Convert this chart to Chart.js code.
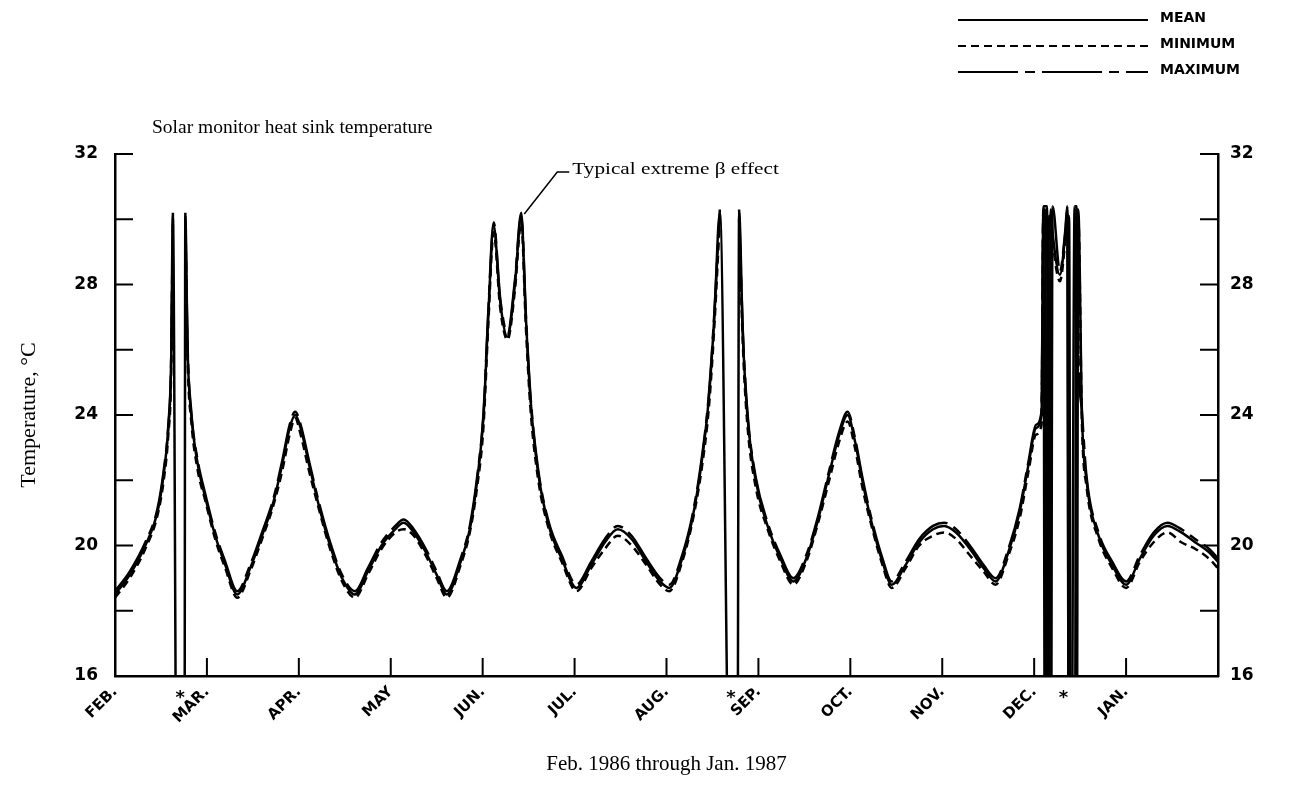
<!DOCTYPE html>
<html>
<head>
<meta charset="utf-8">
<title>Solar monitor heat sink temperature</title>
<script src="https://cdn.jsdelivr.net/npm/chart.js@4.4.1/dist/chart.umd.min.js"></script>
<style>
    html, body { margin: 0; padding: 0; background: #ffffff; }
    #wrap { width: 1294px; height: 789px; }
</style>
</head>
<body>
<div id="wrap"><canvas id="graficoTemperatura"></canvas></div>
<script>
    // x axis is months counted from FEB. 1986 (0) to FEB. 1987 (12)
    const monthLabels = ['FEB.', 'MAR.', 'APR.', 'MAY', 'JUN.', 'JUL.', 'AUG.', 'SEP.', 'OCT.', 'NOV.', 'DEC.', 'JAN.'];
    const gapMarks = [0.71, 6.70, 10.32];   // the '*' under the axis

    const months = [
        0.00, 0.16, 0.33, 0.46, 0.53, 0.58, 0.61, 0.63, 0.675, 0.755, 0.765, 0.79, 0.83, 0.90, 0.98,
        1.09, 1.20, 1.33, 1.47, 1.60, 1.72, 1.82, 1.90, 1.96,
        2.02, 2.11, 2.22, 2.34, 2.47, 2.61, 2.75, 2.90,
        3.05, 3.14, 3.25, 3.38, 3.50, 3.61, 3.76, 3.86, 3.94,
        4.01, 4.06, 4.12, 4.19, 4.27, 4.35, 4.42, 4.47, 4.52, 4.60, 4.72, 4.86,
        5.02, 5.18, 5.33, 5.47, 5.62, 5.78, 5.93,
        6.03, 6.17, 6.28, 6.38, 6.46, 6.52, 6.58, 6.70, 6.77, 6.79, 6.83, 6.88, 6.97,
        7.10, 7.24, 7.38, 7.52, 7.65, 7.77, 7.88, 7.97,
        8.05, 8.13, 8.24, 8.35, 8.45, 8.60, 8.75, 8.90,
        9.02, 9.15, 9.30, 9.45, 9.58, 9.72, 9.84, 9.94,
        10.02, 10.08, 10.10, 10.12, 10.14, 10.16, 10.18, 10.20, 10.28, 10.34, 10.36, 10.38, 10.40, 10.44, 10.46, 10.48, 10.52, 10.57, 10.70, 10.85,
        11.00, 11.15, 11.30, 11.45, 11.60, 11.75, 11.90, 12.00
    ];

    const meanTemp = [
        18.5, 19.1, 20.0, 21.0, 22.2, 23.6, 25.5, 30.1, 10, 10, 30.1, 26.0, 24.0, 22.5, 21.5,
        20.3, 19.4, 18.5, 19.3, 20.3, 21.3, 22.5, 23.6, 24.0,
        23.6, 22.5, 21.2, 20.0, 19.0, 18.5, 19.2, 20.0,
        20.5, 20.7, 20.4, 19.8, 19.1, 18.5, 19.5, 20.5, 22.0,
        24.0, 27.0, 29.8, 27.5, 26.4, 28.0, 30.1, 27.0, 24.5, 22.3, 20.6, 19.6,
        18.7, 19.4, 20.1, 20.5, 20.2, 19.5, 18.9,
        18.7, 19.6, 20.8, 22.5, 24.5, 27.0, 30.2, 10, 10, 30.2, 26.5, 24.0, 22.0,
        20.6, 19.6, 18.9, 19.6, 20.8, 22.2, 23.4, 24.0,
        23.2, 22.0, 20.6, 19.5, 18.8, 19.4, 20.1, 20.5,
        20.6, 20.4, 19.9, 19.3, 18.9, 19.8, 21.0, 22.5,
        23.6, 24.0, 30.3, 30.3, 8, 8, 30.3, 29.6, 28.3, 29.6, 30.3, 8, 8, 8, 30.3, 30.3, 24.0, 22.0, 20.3, 19.4,
        18.8, 19.6, 20.3, 20.6, 20.4, 20.1, 19.8, 19.5
    ];

    const minTemp = [
        18.4, 19.0, 19.9, 20.9, 22.0, 23.4, 25.2, 29.9, null, null, 29.9, 25.7, 23.8, 22.3, 21.4,
        20.2, 19.3, 18.4, 19.2, 20.2, 21.2, 22.3, 23.4, 23.9,
        23.4, 22.3, 21.1, 19.9, 18.9, 18.4, 19.1, 19.9,
        20.4, 20.5, 20.3, 19.7, 19.0, 18.4, 19.4, 20.4, 21.8,
        23.7, 26.7, 29.6, 27.3, 26.3, 27.8, 29.9, 26.7, 24.2, 22.1, 20.5, 19.5,
        18.6, 19.3, 19.9, 20.3, 20.0, 19.4, 18.8,
        18.6, 19.5, 20.7, 22.3, 24.2, 26.7, 30.0, null, null, 30.0, 26.2, 23.7, 21.8,
        20.5, 19.5, 18.8, 19.5, 20.7, 22.0, 23.2, 23.8,
        23.0, 21.8, 20.5, 19.4, 18.7, 19.3, 20.0, 20.3,
        20.4, 20.2, 19.7, 19.2, 18.8, 19.7, 20.8, 22.3,
        23.4, 23.7, 30.1, 8, 8, 30.1, 30.1, 29.4, 28.1, 29.4, 30.1, 30.1, 8, 8, 8, 30.1, 23.7, 21.8, 20.2, 19.3,
        18.7, 19.5, 20.1, 20.4, 20.1, 19.9, 19.6, 19.3
    ];

    const maxTemp = [
        18.6, 19.2, 20.1, 21.1, 22.3, 23.7, 25.6, 30.2, null, null, 30.2, 26.1, 24.1, 22.6, 21.6,
        20.4, 19.5, 18.6, 19.4, 20.4, 21.4, 22.6, 23.7, 24.1,
        23.7, 22.6, 21.3, 20.1, 19.1, 18.6, 19.3, 20.1,
        20.6, 20.8, 20.5, 19.9, 19.2, 18.6, 19.6, 20.6, 22.1,
        24.1, 27.1, 29.9, 27.6, 26.5, 28.1, 30.2, 27.1, 24.6, 22.4, 20.7, 19.7,
        18.8, 19.5, 20.2, 20.6, 20.3, 19.6, 19.0,
        18.8, 19.7, 20.9, 22.6, 24.6, 27.1, 30.3, null, null, 30.3, 26.6, 24.1, 22.1,
        20.7, 19.7, 19.0, 19.7, 20.9, 22.3, 23.5, 24.1,
        23.3, 22.1, 20.7, 19.6, 18.9, 19.5, 20.2, 20.6,
        20.7, 20.5, 20.0, 19.4, 19.0, 19.9, 21.1, 22.6,
        23.7, 24.1, 30.4, 30.4, 30.4, 8, 8, 30.4, 28.4, 29.7, 30.4, 8, 8, 30.4, 30.4, 26.0, 24.1, 22.1, 20.4, 19.5,
        18.9, 19.7, 20.4, 20.7, 20.5, 20.2, 19.9, 19.6
    ];

    function pontos(temps) {
        return months.map((m, i) => ({ x: m, y: temps[i] }));
    }

    // the drop-out strokes are drawn solid even on the dashed series
    function tracoQueda(ctx) {
        return Math.abs(ctx.p0.parsed.y - ctx.p1.parsed.y) > 10 ? [] : undefined;
    }

    // tick marks point into the plot, so they are drawn here
    const marcasEixo = {
        id: 'marcasEixo',
        afterDraw(chart) {
            const ctx = chart.ctx;
            const { left, right, bottom } = chart.chartArea;
            const sx = chart.scales.x;
            const sy = chart.scales.y;
            ctx.save();
            ctx.strokeStyle = '#000';
            ctx.lineWidth = 2;
            ctx.beginPath();
            sy.ticks.forEach(t => {
                if (t.value <= 16) return;
                const py = sy.getPixelForValue(t.value);
                ctx.moveTo(left, py); ctx.lineTo(left + 18, py);
                ctx.moveTo(right, py); ctx.lineTo(right - 18, py);
            });
            sx.ticks.forEach(t => {
                if (t.value <= 0 || t.value >= 12) return;
                const px = sx.getPixelForValue(t.value);
                ctx.moveTo(px, bottom); ctx.lineTo(px, bottom - 18);
            });
            ctx.stroke();
            ctx.restore();
        }
    };

    // title, legend, note and the '*' marks
    const textos = {
        id: 'textos',
        afterDraw(chart) {
            const ctx = chart.ctx;
            const sx = chart.scales.x;
            const sy = chart.scales.y;
            const bottom = chart.chartArea.bottom;
            ctx.save();
            ctx.fillStyle = '#000';
            ctx.strokeStyle = '#000';
            ctx.textBaseline = 'middle';

            ctx.font = '19.5px "Liberation Serif"';
            ctx.fillText('Solar monitor heat sink temperature', 152, 128);

            // legend
            ctx.font = 'bold 14px "DejaVu Sans"';
            chart.data.datasets.forEach((ds, i) => {
                const y = 20 + i * 26;
                ctx.lineWidth = 2;
                ctx.setLineDash(ds.borderDash || []);
                ctx.beginPath();
                ctx.moveTo(958, y);
                ctx.lineTo(1148, y);
                ctx.stroke();
                ctx.setLineDash([]);
                ctx.fillText(ds.label, 1160, y - 2);
            });

            // leader to the June double peak
            const px = sx.getPixelForValue(4.42);
            const py = sy.getPixelForValue(30.1);
            ctx.lineWidth = 1.5;
            ctx.beginPath();
            ctx.moveTo(px + 3, py - 2);
            ctx.lineTo(px + 36, py - 44);
            ctx.lineTo(px + 48, py - 44);
            ctx.stroke();
            ctx.font = '17px "Liberation Serif"';
            ctx.translate(px + 51, py - 46);
            ctx.scale(1.25, 1);
            ctx.fillText('Typical extreme \u03b2 effect', 0, 0);
            ctx.setTransform(1, 0, 0, 1, 0, 0);

            ctx.font = 'bold 18px "DejaVu Sans"';
            ctx.textAlign = 'center';
            gapMarks.forEach(m => {
                ctx.fillText('*', sx.getPixelForValue(m), bottom + 22);
            });
            ctx.restore();
        }
    };

    function criargrafico(canvasID) {
        const ctx = document.getElementById(canvasID).getContext('2d');
        const fonteEixo = { family: 'DejaVu Sans', weight: 'bold', size: 17 };
        const yTicks = {
            stepSize: 2,
            color: '#000',
            font: fonteEixo,
            callback: v => (v % 4 === 0 ? v : '')
        };

        new Chart(ctx, {
            type: 'line',
            data: {
                datasets: [
                    {
                        label: 'MEAN',
                        data: pontos(meanTemp),
                        borderColor: '#000',
                        borderWidth: 2.5,
                        borderDash: []
                    },
                    {
                        label: 'MINIMUM',
                        data: pontos(minTemp),
                        borderColor: '#000',
                        borderWidth: 2.5,
                        borderDash: [8, 5],
                        segment: { borderDash: tracoQueda }
                    },
                    {
                        label: 'MAXIMUM',
                        data: pontos(maxTemp),
                        borderColor: '#000',
                        borderWidth: 2.5,
                        borderDash: [60, 7, 10, 7],
                        segment: { borderDash: tracoQueda }
                    }
                ]
            },
            options: {
                responsive: true,
                maintainAspectRatio: false,
                animation: false,
                layout: { padding: { top: 154, left: 0, right: 0, bottom: 0 } },
                elements: {
                    point: { radius: 0 },
                    line: { cubicInterpolationMode: 'monotone' }
                },
                datasets: { line: { clip: 0, spanGaps: false } },
                plugins: {
                    legend: { display: false },
                    tooltip: { enabled: false }
                },
                scales: {
                    x: {
                        type: 'linear',
                        min: 0,
                        max: 12,
                        afterFit: s => { s.height = 113; },
                        grid: { display: false, drawTicks: false },
                        border: { display: true, color: '#000', width: 2.5 },
                        ticks: {
                            stepSize: 1,
                            autoSkip: false,
                            minRotation: 45,
                            maxRotation: 45,
                            padding: 7,
                            color: '#000',
                            font: { family: 'DejaVu Sans', weight: 'bold', size: 15 },
                            callback: v => monthLabels[v] || ''
                        },
                        title: {
                            display: true,
                            text: 'Feb. 1986 through Jan. 1987',
                            color: '#000',
                            font: { family: 'Liberation Serif', size: 21 },
                            padding: { top: 0, bottom: 12 }
                        }
                    },
                    y: {
                        position: 'left',
                        min: 16,
                        max: 32,
                        afterFit: s => { s.width = 115; },
                        grid: { display: false, drawTicks: false },
                        border: { display: true, color: '#000', width: 2.5 },
                        ticks: Object.assign({ padding: 17 }, yTicks),
                        title: {
                            display: true,
                            text: 'Temperature, \u00b0C',
                            color: '#000',
                            font: { family: 'Liberation Serif', size: 22 },
                            padding: { top: 16, bottom: 0 }
                        }
                    },
                    y2: {
                        position: 'right',
                        min: 16,
                        max: 32,
                        afterFit: s => { s.width = 76; },
                        grid: { display: false, drawTicks: false },
                        border: { display: true, color: '#000', width: 2.5 },
                        ticks: Object.assign({ padding: 12 }, yTicks)
                    }
                }
            },
            plugins: [marcasEixo, textos]
        });
    }

    criargrafico('graficoTemperatura');
</script>
</body>
</html>
